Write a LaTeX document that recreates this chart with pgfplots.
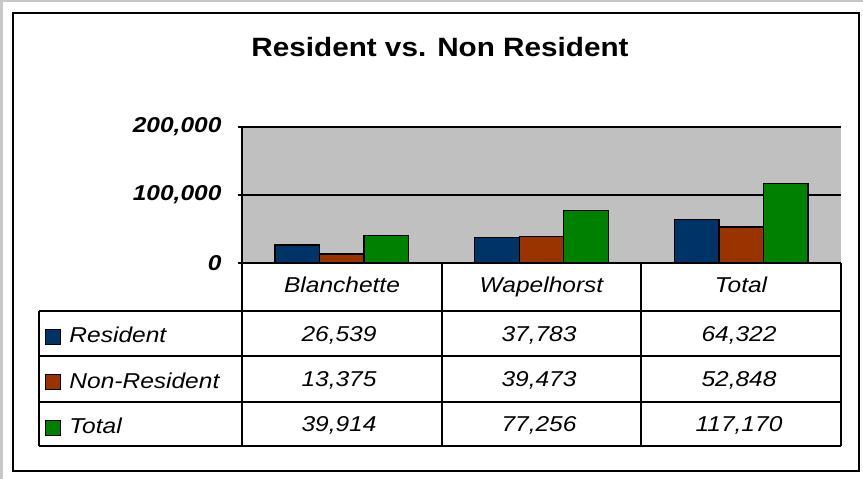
\documentclass[border=0pt]{standalone}
\usepackage{pgfplots}
\pgfplotsset{compat=1.18}
\usepackage{fontspec}
\setmainfont{Liberation Sans}
\usepackage{graphicx}
\definecolor{resblue}{HTML}{003366}
\definecolor{nonres}{HTML}{993300}
\definecolor{totgreen}{HTML}{008000}
\definecolor{plotgray}{HTML}{C0C0C0}
\definecolor{edgegray}{HTML}{C8C8C8}
\newcommand\sx[1]{\scalebox{1.14}[1]{#1}}
\newcommand\tfont{\fontsize{21.5}{24}\selectfont\itshape}
\pgfplotsset{sqleg/.style={legend image code/.code={\draw[##1, line width=1pt] (0pt,-6pt) rectangle (15pt,9pt);}}}

\begin{document}
\begin{tikzpicture}[x=1pt,y=1pt]
\path[use as bounding box] (0,0) rectangle (863,479);
\fill[white] (0,0) rectangle (863,479);
\fill[edgegray] (0,476.5) rectangle (863,479);
\fill[edgegray] (0,0) rectangle (2.5,479);
\draw[line width=2pt] (13,8) rectangle (859,466);
\node[anchor=base, font=\fontsize{26.5}{30}\selectfont\bfseries] at (440,422) {\scalebox{1.12}[1]{Resident vs. Non Resident}};

\begin{axis}[
  at={(242pt,216pt)}, anchor=south west,
  scale only axis, width=599pt, height=136pt,
  xmin=0, xmax=3, ymin=0, ymax=200000,
  ybar=0pt, bar width=44.5pt,
  xtick=\empty,
  ytick={0,100000,200000},
  scaled y ticks=false,
  yticklabels={{\sx{0}},{\sx{100,000}},{\sx{200,000}}},
  yticklabel style={font=\fontsize{21.5}{24}\selectfont\bfseries\itshape, xshift=-13pt},
  tick align=outside, major tick length=8pt,
  ytick style={black, line width=1.2pt},
  ymajorgrids, grid style={black, line width=1.2pt},
  axis x line=bottom, axis y line=left,
  axis line style={-, line width=1.5pt, black},
  axis background/.style={fill=plotgray},
  legend cell align=left,
  legend style={at={(-0.3289,-0.4705)}, anchor=north west, draw=none, fill=none,
    inner sep=0pt, outer sep=0pt, row sep=22.5pt, column sep=8.5pt, font=\tfont,
    nodes={inner sep=0pt, text height=16pt, text depth=7pt}},
  clip=false,
]
\addplot[fill=resblue, draw=black, line width=1.2pt, sqleg] coordinates {(0.5,26539) (1.5,37783) (2.5,64322)};
\addlegendentry{\sx{Resident}}
\addplot[fill=nonres, draw=black, line width=1.2pt, sqleg] coordinates {(0.5,13375) (1.5,39473) (2.5,52848)};
\addlegendentry{\sx{Non-Resident}}
\addplot[fill=totgreen, draw=black, line width=1.2pt, sqleg] coordinates {(0.5,39914) (1.5,77256) (2.5,117170)};
\addlegendentry{\sx{Total}}
\end{axis}

\draw[line width=1.5pt] (39,168) -- (841,168);
\draw[line width=1.5pt] (39,123) -- (841,123);
\draw[line width=1.5pt] (39,77) -- (841,77);
\draw[line width=1.5pt] (39,33) -- (841,33);
\draw[line width=1.5pt] (39,168) -- (39,33);
\foreach \xx in {242,442,641,841} \draw[line width=1.5pt] (\xx,216) -- (\xx,33);

\node[anchor=base, font=\tfont] at (342,186) {\sx{Blanchette}};
\node[anchor=base, font=\tfont] at (541.5,186) {\sx{Wapelhorst}};
\node[anchor=base, font=\tfont] at (741,186) {\sx{Total}};

\node[anchor=base, font=\tfont] at (339,137) {\sx{26,539}};
\node[anchor=base, font=\tfont] at (539,137) {\sx{37,783}};
\node[anchor=base, font=\tfont] at (739,137) {\sx{64,322}};
\node[anchor=base, font=\tfont] at (339,92) {\sx{13,375}};
\node[anchor=base, font=\tfont] at (539,92) {\sx{39,473}};
\node[anchor=base, font=\tfont] at (739,92) {\sx{52,848}};
\node[anchor=base, font=\tfont] at (339,47) {\sx{39,914}};
\node[anchor=base, font=\tfont] at (539,47) {\sx{77,256}};
\node[anchor=base, font=\tfont] at (739,47) {\sx{117,170}};
\end{tikzpicture}
\end{document}
